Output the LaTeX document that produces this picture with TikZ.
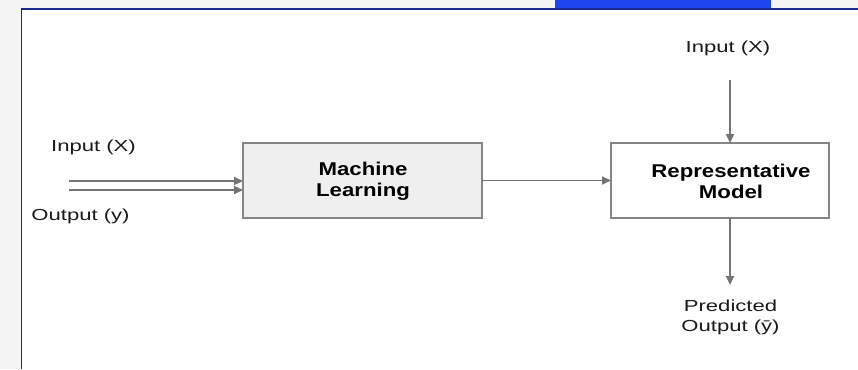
\documentclass[tikz,border=0pt]{standalone}
\usepackage{fontspec}
\setmainfont{Liberation Sans}
\usetikzlibrary{arrows.meta}
\definecolor{bggray}{HTML}{F4F4F4}
\definecolor{framenavy}{HTML}{1A2790}
\definecolor{tabblue}{HTML}{1E45F0}
\definecolor{boxline}{HTML}{858585}
\definecolor{boxfill}{HTML}{EFEFEF}
\definecolor{arrowgray}{HTML}{747474}
\definecolor{textgray}{HTML}{1A1A1A}
\newcommand{\reglab}[1]{\scalebox{1.38}[1]{#1}}
\newcommand{\boldlab}[1]{\scalebox{1.2}[1]{#1}}
\begin{document}
\begin{tikzpicture}[x=1pt,y=-1pt,
  every node/.style={inner sep=0pt, outer sep=0pt},
  lab/.style={font=\fontsize{16}{19}\selectfont, text=textgray},
  boxtext/.style={font=\fontsize{18.5}{21}\selectfont\bfseries, text=black},
  procbox/.style={draw=boxline, line width=1.8pt, minimum height=75pt},
  conn/.style={draw=arrowgray, line width=1.8pt, -{Triangle[length=9pt,width=8pt]}}
]
\useasboundingbox (0,0) rectangle (858,369);
% background and frame
\fill[bggray] (0,0) rectangle (858,369);
\fill[white] (22,10) rectangle (858,369);
\fill[tabblue] (555,0) rectangle (771,8.5);
\draw[framenavy, line width=1.8pt] (21.5,369) -- (21.5,9.2) -- (858,9.2);

% boxes
\node[procbox, fill=boxfill, minimum width=239pt] (ml) at (362.5,180.5) {};
\node[boxtext, align=center] at (363,181) {\boldlab{Machine}\\[0pt]\boldlab{Learning}};
\node[procbox, fill=white, minimum width=218pt] (rm) at (720,180.5) {};
\node[boxtext, align=center] at (731,181) {\boldlab{Representative}\\[0pt]\boldlab{Model}};

% labels
\node[lab] (inl) at (93.5,147) {\reglab{Input (X)}};
\node[lab] (outl) at (80.5,216) {\reglab{Output (y)}};
\node[lab] (intop) at (728,48) {\reglab{Input (X)}};
\node[lab, align=center] (pred) at (730.5,317) {\reglab{Predicted}\\[1pt]\reglab{Output (ȳ)}};

% connectors
\coordinate (in1) at (69,181);
\coordinate (in2) at (69,190);
\draw[conn] (in1) -- (in1 -| ml.west);
\draw[conn] (in2) -- (in2 -| ml.west);
\draw[conn] (ml) -- (rm);
\coordinate (topstart) at (730,80);
\draw[conn] (topstart) -- (topstart |- rm.north);
\coordinate (botend) at (730,285);
\draw[conn] (botend |- rm.south) -- (botend);
\end{tikzpicture}
\end{document}
